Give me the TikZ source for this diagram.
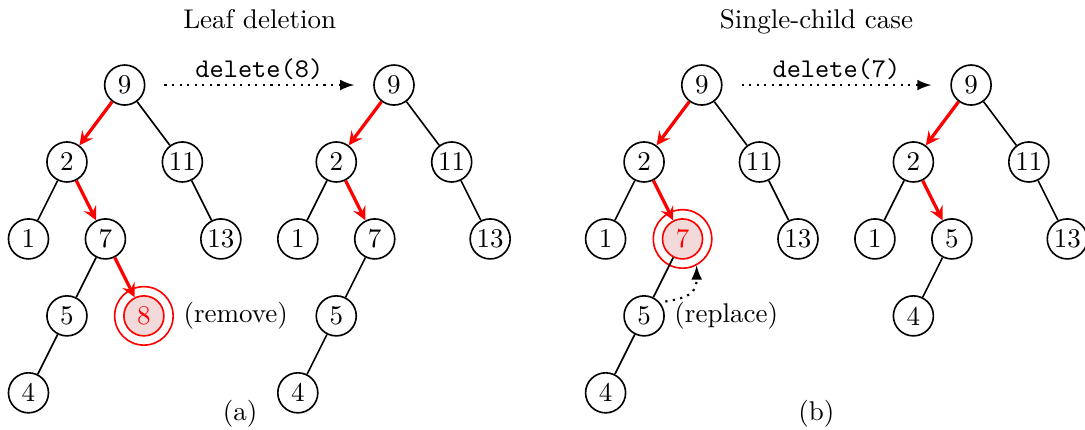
\documentclass[tikz,border=0pt]{standalone}
\usetikzlibrary{positioning, arrows}
\definecolor{hitfill}{RGB}{242, 218, 218}
\tikzstyle{key} = [circle, draw=black, semithick, minimum size=0.52cm, inner sep=0pt]
\tikzstyle{hit} = [key, draw=red, fill=hitfill, text=red]
\tikzstyle{ring} = [circle, draw=red, semithick, minimum size=0.76cm, inner sep=0pt]
\tikzstyle{edge} = [semithick]
\tikzstyle{search} = [very thick, red, ->, >=stealth]
\tikzstyle{op} = [thick, dotted, ->, >=latex, shorten <=7pt, shorten >=7pt]
\tikzstyle{replace} = [thick, dotted, ->, >=latex, shorten <=2pt]

\begin{document}
\begin{tikzpicture}[on grid, node distance=1cm and 0.5cm]
    \useasboundingbox (0,0) rectangle (14.1,-5.588);

    %Titles
    \node (titleA) [anchor=base] at (3.375,-0.364) {Leaf deletion};
    \node (titleB) [anchor=base] at (10.61,-0.364) {Single-child case};

    %Leaf deletion, before
    \node (A9) [key] at (1.62,-1.105) {9};
    \node (A2) [key, below left=1cm and 0.75cm of A9] {2};
    \node (A11) [key, below right=1cm and 0.75cm of A9] {11};
    \node (A1) [key, below left=of A2] {1};
    \node (A7) [key, below right=of A2] {7};
    \node (A13) [key, below right=of A11] {13};
    \node (A5) [key, below left=of A7] {5};
    \node (A8) [hit, below right=of A7] {8};
    \node (A4) [key, below left=of A5] {4};
    \node (A8ring) [ring] at (A8) {};
    \node (remove) [anchor=west] at (A8ring.east) {(remove)};

    \draw [search] (A9) -- (A2);
    \draw [search] (A2) -- (A7);
    \draw [search] (A7) -- (A8);
    \draw [edge] (A9) -- (A11);
    \draw [edge] (A2) -- (A1);
    \draw [edge] (A11) -- (A13);
    \draw [edge] (A7) -- (A5);
    \draw [edge] (A5) -- (A4);

    %Leaf deletion, after
    \node (B9) [key, right=3.5cm of A9] {9};
    \node (B2) [key, below left=1cm and 0.75cm of B9] {2};
    \node (B11) [key, below right=1cm and 0.75cm of B9] {11};
    \node (B1) [key, below left=of B2] {1};
    \node (B7) [key, below right=of B2] {7};
    \node (B13) [key, below right=of B11] {13};
    \node (B5) [key, below left=of B7] {5};
    \node (B4) [key, below left=of B5] {4};

    \draw [search] (B9) -- (B2);
    \draw [search] (B2) -- (B7);
    \draw [edge] (B9) -- (B11);
    \draw [edge] (B2) -- (B1);
    \draw [edge] (B11) -- (B13);
    \draw [edge] (B7) -- (B5);
    \draw [edge] (B5) -- (B4);

    \draw [op] (A9) -- node [above, inner sep=1.5pt] {\texttt{delete(8)}} (B9);
    \node (capA) [anchor=base] at (3.12,-5.47) {(a)};

    %Single-child case, before
    \node (C9) [key, right=4cm of B9] {9};
    \node (C2) [key, below left=1cm and 0.75cm of C9] {2};
    \node (C11) [key, below right=1cm and 0.75cm of C9] {11};
    \node (C1) [key, below left=of C2] {1};
    \node (C7) [hit, below right=of C2] {7};
    \node (C13) [key, below right=of C11] {13};
    \node (C5) [key, below left=of C7] {5};
    \node (C4) [key, below left=of C5] {4};
    \node (C7ring) [ring] at (C7) {};
    \node (replace) [anchor=west] at (C5.east) {(replace)};

    \draw [search] (C9) -- (C2);
    \draw [search] (C2) -- (C7);
    \draw [edge] (C9) -- (C11);
    \draw [edge] (C2) -- (C1);
    \draw [edge] (C11) -- (C13);
    \draw [edge] (C7) -- (C5);
    \draw [edge] (C5) -- (C4);
    \draw [replace] (C5.40) to [out=10, in=-90, looseness=1.4] (C7ring.-62);

    %Single-child case, after
    \node (D9) [key, right=3.5cm of C9] {9};
    \node (D2) [key, below left=1cm and 0.75cm of D9] {2};
    \node (D11) [key, below right=1cm and 0.75cm of D9] {11};
    \node (D1) [key, below left=of D2] {1};
    \node (D5) [key, below right=of D2] {5};
    \node (D13) [key, below right=of D11] {13};
    \node (D4) [key, below left=of D5] {4};

    \draw [search] (D9) -- (D2);
    \draw [search] (D2) -- (D5);
    \draw [edge] (D9) -- (D11);
    \draw [edge] (D2) -- (D1);
    \draw [edge] (D11) -- (D13);
    \draw [edge] (D5) -- (D4);

    \draw [op] (C9) -- node [above, inner sep=1.5pt] {\texttt{delete(7)}} (D9);
    \node (capB) [anchor=base] at (10.61,-5.47) {(b)};

\end{tikzpicture}
\end{document}
